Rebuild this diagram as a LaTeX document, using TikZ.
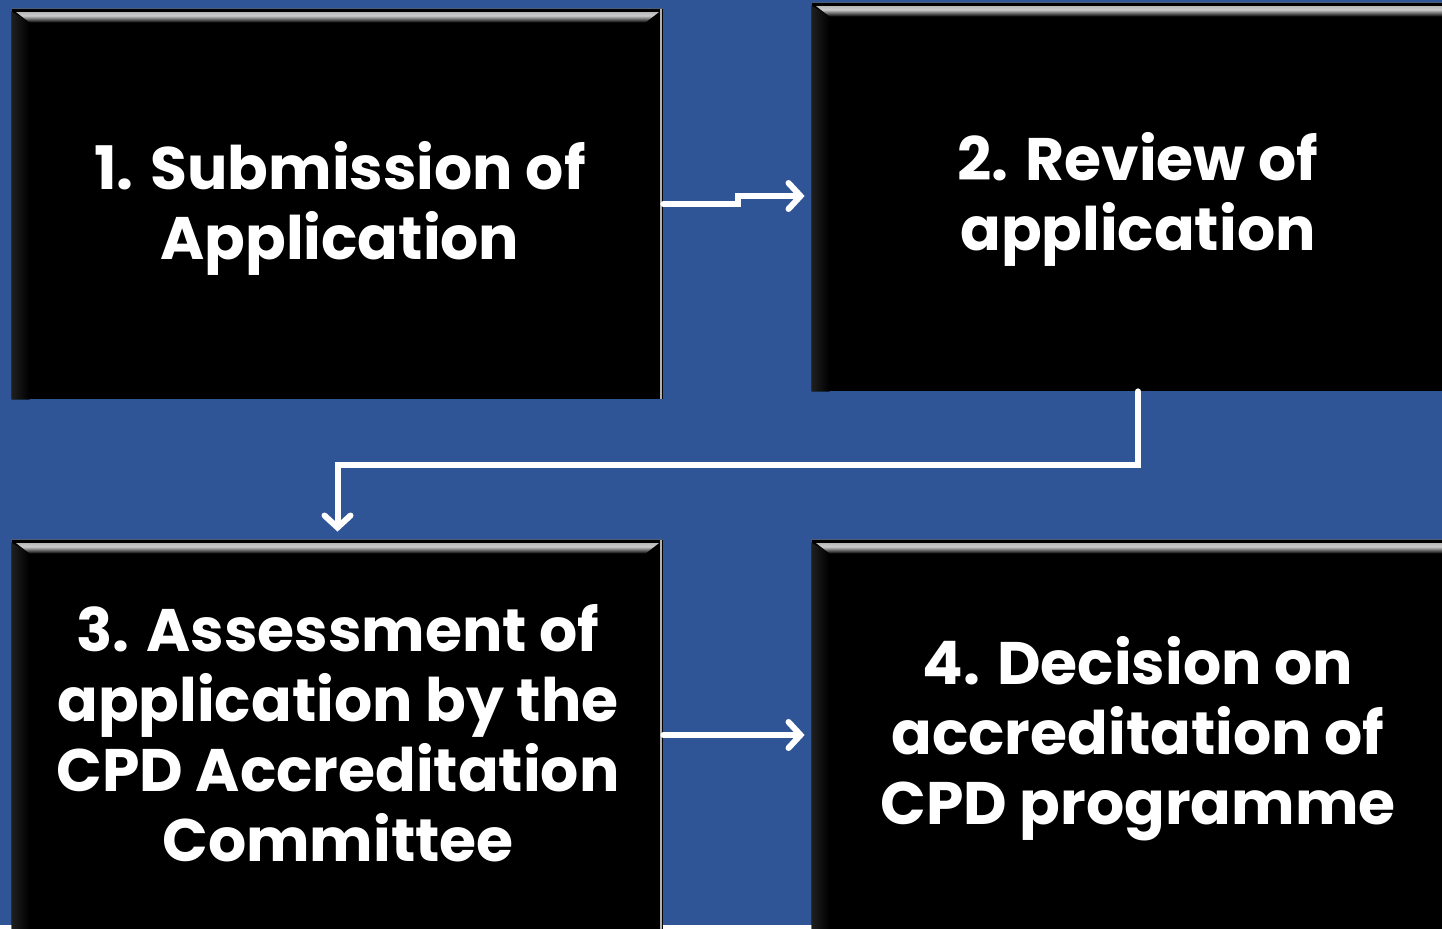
\documentclass[tikz,border=0pt]{standalone}
\usepackage{fontspec}
\setmainfont{Poppins}
\usetikzlibrary{arrows.meta}
\definecolor{bgblue}{HTML}{2F5597}
\tikzset{
  stepbox/.style={fill=black, inner sep=0pt, minimum width=325.5pt, minimum height=195pt},
  steptext/.style={inner sep=0pt, font=\fontsize{30pt}{35pt}\selectfont\bfseries, text=white, align=center},
  flow/.style={draw=white, line width=3pt, line cap=round, line join=miter,
    -{Straight Barb[length=6pt,width=13pt,line cap=round]}},
  topbevel/.style={top color=gray!70, bottom color=black, middle color=gray!40},
  leftbevel/.style={left color=black!88, right color=black},
}
\newcommand{\bevel}[1]{%
  \fill[topbevel] (#1.north west) -- (#1.north east) -- ([xshift=-9pt,yshift=-7pt]#1.north east) -- ([xshift=9pt,yshift=-7pt]#1.north west) -- cycle;
  \fill[black] (#1.north west) -- (#1.north east) -- ([yshift=-1.5pt]#1.north east) -- ([yshift=-1.5pt]#1.north west) -- cycle;
  \fill[leftbevel] ([yshift=-1.5pt]#1.north west) -- ([xshift=9pt,yshift=-7pt]#1.north west) -- ([xshift=9pt]#1.south west) -- (#1.south west) -- cycle;
}
\begin{document}
\begin{tikzpicture}[x=0.5pt,y=-0.5pt]
\useasboundingbox (0,0) rectangle (1442,929);
\clip (0,0) rectangle (1442,929);
\fill[white] (0,0) rectangle (1442,929);
\fill[bgblue] (0,0) rectangle (1442,925);
\node[stepbox] (b1) at (337.5,204) {};
\node[stepbox, minimum width=326pt, minimum height=194pt] (b2) at (1138,197) {};
\node[stepbox] (b3) at (337.5,735) {};
\node[stepbox, minimum width=326pt] (b4) at (1138,735) {};
\bevel{b1}\bevel{b2}\bevel{b3}\bevel{b4}
\fill[gray!60] ([xshift=-1.5pt]b1.north east) rectangle ([xshift=-0.5pt]b1.south east);
\fill[gray!60] ([xshift=-1.5pt]b3.north east) rectangle ([xshift=-0.5pt]b3.south east);
\node[steptext] (t1) at (340,208) {1. Submission of\\Application};
\node[steptext] (t2) at (1138,199) {2. Review of\\application};
\node[steptext] (t3) at (338,733) {3. Assessment of\\application by the\\CPD Accreditation\\Committee};
\node[steptext] (t4) at (1138,739) {4. Decision on\\accreditation of\\CPD programme};
\draw[flow, shorten >=3.5pt] (b1.east) -- (738,204) -- (738,196) -- (b2.west |- 0,196);
\draw[flow, shorten >=4pt] (b2.south) -- (1138,465) -- (337.5,465) -- (b3.north);
\draw[flow, shorten >=3.5pt] (b3.east) -- (b4.west);
\end{tikzpicture}
\end{document}
